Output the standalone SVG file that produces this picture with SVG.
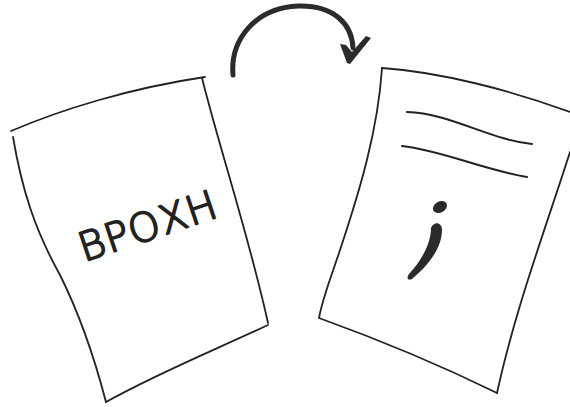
<svg xmlns="http://www.w3.org/2000/svg" width="570" height="407" viewBox="0 0 570 407">
<style>
.edge{fill:none;stroke:#222;stroke-width:1.8;stroke-linecap:round;stroke-linejoin:round}
.ink{fill:#2b2b2b;stroke:none}
.label{font-family:"DejaVu Sans",sans-serif;font-size:40px;font-weight:200;fill:#222;stroke:#222;stroke-width:1.8;stroke-linejoin:round;letter-spacing:1px}
</style>
<rect width="570" height="407" fill="#fff"/>
<g id="page-left">
<path class="edge" d="M11,131 C60,110 130,88 205,77"/>
<path class="edge" d="M13,137 C22,190 35,230 60,275 C80,315 95,360 106,402"/>
<path class="edge" d="M202,78 C220,150 250,240 268,323"/>
<path class="edge" d="M106,402 C160,372 215,350 268,325"/>
<text class="label" transform="translate(84,262) rotate(-18.5)">ΒΡΟΧΗ</text>
</g>
<g id="page-right">
<path class="edge" d="M382,68 C440,72 510,90 570,112"/>
<path class="edge" d="M382,68 C378,130 360,190 340,250 C330,280 322,300 319,318"/>
<path class="edge" d="M319,318 C380,340 440,365 497,393"/>
<path class="edge" d="M570,152 C545,230 515,310 497,393"/>
<path class="edge" d="M407,112 C450,113 490,140 532,144" style="stroke-width:2"/>
<path class="edge" d="M402,146 C440,150 485,170 527,177" style="stroke-width:2"/>
<ellipse class="ink" cx="440" cy="207" rx="7.5" ry="5.5" transform="rotate(-30 440 207)"/>
<path class="ink" d="M431,228 C434,221 442,222 442,230 C442,250 425,268 412,279 C408,281 406,278 409,274 C420,262 431,245 431,228 Z"/>
</g>
<g id="connectors">
<path d="M233,75 C230,40 255,8 298,6 C335,5 352,25 353,48" fill="none" stroke="#2b2b2b" stroke-width="5" stroke-linecap="round"/>
<path class="ink" d="M340,44 L346,45 L352,52 L366,36 L371,38 L350,64 L347,63 Z"/>
</g>
</svg>
